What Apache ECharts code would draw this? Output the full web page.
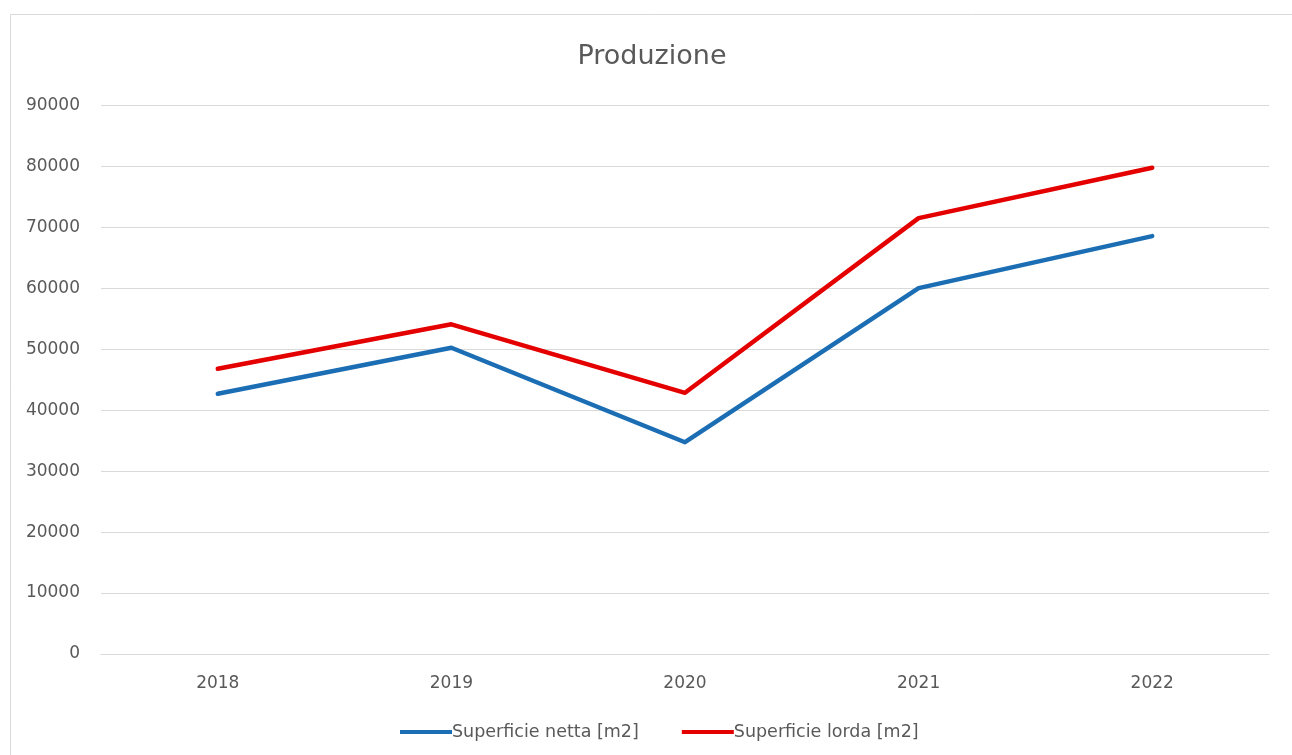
<!DOCTYPE html>
<html>
<head>
<meta charset="utf-8">
<script src="https://cdn.jsdelivr.net/npm/echarts@6/dist/echarts.min.js"></script>
<style>
html,body{margin:0;padding:0;background:#fff;}
#chart{width:1292px;height:755px;}
</style>
</head>
<body>
<div id="chart"></div>
<script>
const titleText = "Produzione";
const categories = ["2018", "2019", "2020", "2021", "2022"];
const netta = [42700, 50250, 34750, 60030, 68570];
const lorda = [46800, 54100, 42860, 71520, 79790];
const seriesNames = ["Superficie netta [m2]", "Superficie lorda [m2]"];
const yMin = 0, yMax = 90000, yStep = 10000;

const chart = echarts.init(document.getElementById('chart'));
const font = "'DejaVu Sans', sans-serif";
chart.setOption({
  backgroundColor: '#fff',
  animation: false,
  graphic: [{
    type: 'rect', silent: true,
    shape: { x: 10.5, y: 14.5, width: 1300, height: 760 },
    style: { fill: 'none', stroke: '#d9d9d9', lineWidth: 1 }
  }],
  title: {
    text: titleText, left: 647, top: 38, textAlign: 'center',
    textStyle: { fontFamily: font, fontSize: 27, fontWeight: 'normal', color: '#595959' }
  },
  grid: { left: 101, right: 23, top: 105.5, bottom: 101, containLabel: false },
  legend: {
    data: seriesNames, bottom: 9, left: 395,
    icon: 'rect', itemWidth: 52, itemHeight: 4, itemGap: 43,
    textStyle: { fontFamily: font, fontSize: 17.5, color: '#595959', padding: [0, 0, 0, -5] }
  },
  xAxis: {
    type: 'category', data: categories, boundaryGap: true,
    axisLine: { show: true, lineStyle: { color: '#d9d9d9', width: 1 } },
    axisTick: { show: false },
    axisLabel: { fontFamily: font, fontSize: 17, color: '#595959', margin: 21 }
  },
  yAxis: {
    type: 'value', min: yMin, max: yMax, interval: yStep,
    axisLine: { show: false }, axisTick: { show: false },
    splitLine: { lineStyle: { color: '#d9d9d9', width: 1 } },
    axisLabel: { fontFamily: font, fontSize: 17, color: '#595959', margin: 21,
      formatter: function (v) { return String(v); } }
  },
  series: [
    { name: seriesNames[0], type: 'line', data: netta, showSymbol: false, symbol: 'none',
      lineStyle: { color: '#1b6db4', width: 4.5, cap: 'round', join: 'round' }, itemStyle: { color: '#1b6db4' } },
    { name: seriesNames[1], type: 'line', data: lorda, showSymbol: false, symbol: 'none',
      lineStyle: { color: '#e50000', width: 4.5, cap: 'round', join: 'round' }, itemStyle: { color: '#e50000' } }
  ]
});
</script>
</body>
</html>
